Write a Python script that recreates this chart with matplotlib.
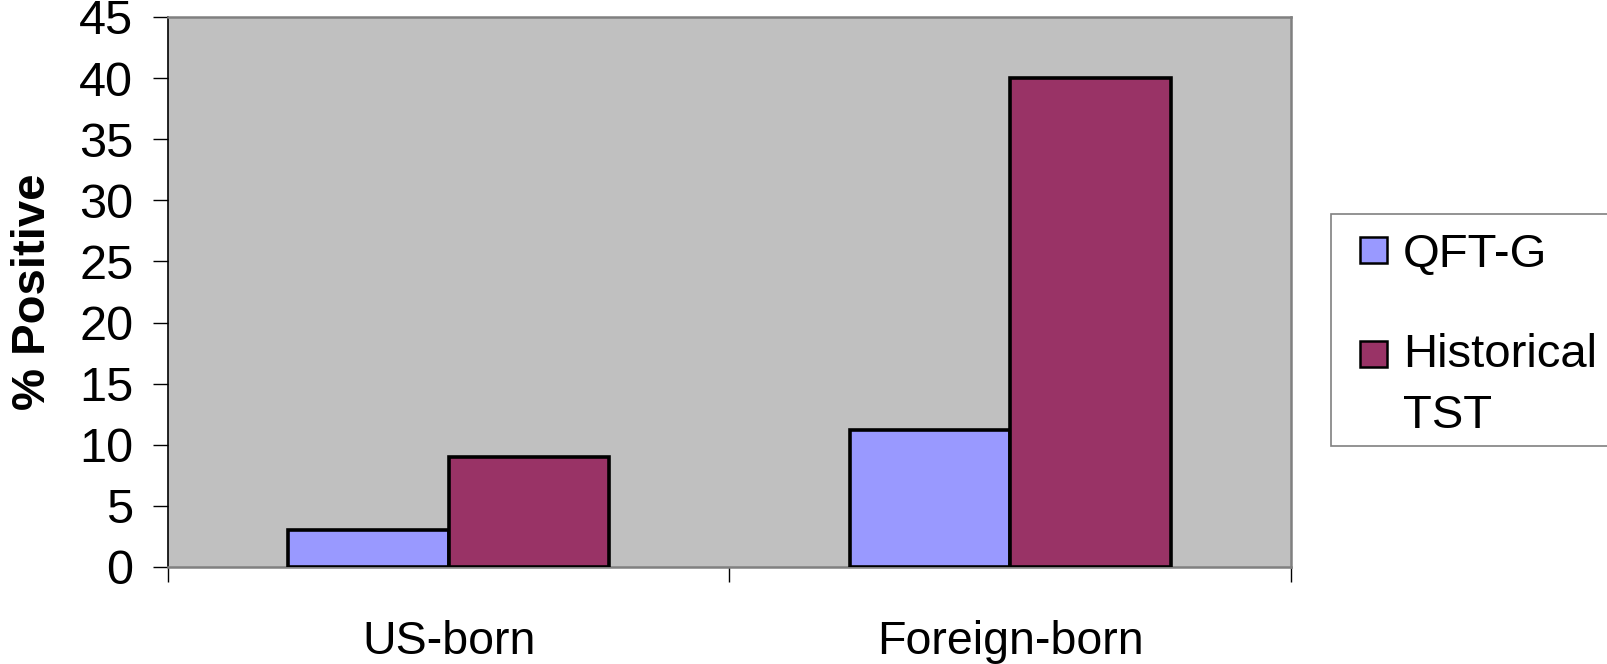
import matplotlib
matplotlib.use("Agg")
import matplotlib.pyplot as plt
from matplotlib.patches import Rectangle
import numpy as np

# Data
categories = ["US-born", "Foreign-born"]
series_names = ["QFT-G", "Historical\nTST"]
qft_g = [3.0, 11.2]
historical_tst = [9.0, 40.0]
series_values = [qft_g, historical_tst]
series_colors = ["#9999FF", "#993366"]
y_ticks = [0, 5, 10, 15, 20, 25, 30, 35, 40, 45]

W, H = 1608, 664
DPI = 100
plt.rcParams["font.family"] = ["Liberation Sans", "DejaVu Sans"]

fig = plt.figure(figsize=(W / DPI, H / DPI), dpi=DPI)
fig.patch.set_facecolor("white")


def px_rect(x0, y0, x1, y1):
    """Convert a box given in pixels (top-left origin) to figure fractions."""
    return [x0 / W, 1 - y1 / H, (x1 - x0) / W, (y1 - y0) / H]


ax = fig.add_axes(px_rect(168, 17, 1291, 567))
ax.set_facecolor("#C0C0C0")

n_series = len(series_values)
bar_w = 1 / 3.5  # Excel-style gap width of 150%
x = np.arange(len(categories))
for i, (vals, col) in enumerate(zip(series_values, series_colors)):
    offs = (i - (n_series - 1) / 2) * bar_w
    ax.bar(x + offs, vals, width=bar_w, color=col, edgecolor="black",
           linewidth=2.6, zorder=3)

ax.set_xlim(-0.5, len(categories) - 0.5)
ax.set_ylim(y_ticks[0], y_ticks[-1])
ax.set_yticks(y_ticks)
ax.set_yticklabels([str(v) for v in y_ticks], fontsize=35)
ax.tick_params(axis="y", direction="out", length=11, width=1, color="black",
               pad=14)

# Category boundaries carry the tick marks; labels sit between them
ax.set_xticks(np.arange(len(categories) + 1) - 0.5)
ax.set_xticklabels([])
ax.set_xticks(x, minor=True)
ax.set_xticklabels(categories, minor=True, fontsize=33.5)
ax.tick_params(axis="x", which="major", direction="out", length=11, width=1,
               color="black")
ax.tick_params(axis="x", which="minor", length=0, pad=38)

for side in ["top", "right", "bottom"]:
    ax.spines[side].set_color("#808080")
    ax.spines[side].set_linewidth(1.8)
ax.spines["left"].set_color("black")
ax.spines["left"].set_linewidth(1.2)

fig.text(33 / W, 1 - 292 / H, "% Positive", rotation=90, ha="center",
         va="center", fontsize=34, fontweight="bold")

# Legend box
frame = Rectangle(px_rect(1331, 214, 1640, 446)[:2], (1640 - 1331) / W,
                  (446 - 214) / H, transform=fig.transFigure,
                  facecolor="white", edgecolor="#808080", linewidth=1.2)
fig.patches.append(frame)

entry_tops = [237, 341]
# baseline of each entry's last text line
baselines = [267, 428]
for name, col, top, base in zip(series_names, series_colors, entry_tops,
                                baselines):
    r = px_rect(1360, top, 1387, top + 26)
    fig.patches.append(Rectangle((r[0], r[1]), r[2], r[3],
                                 transform=fig.transFigure, facecolor=col,
                                 edgecolor="black", linewidth=1.8))
    fig.text(1403 / W, 1 - base / H, name, ha="left", va="baseline",
             fontsize=34, linespacing=1.5)

fig.savefig("out.png", dpi=DPI, facecolor="white")
